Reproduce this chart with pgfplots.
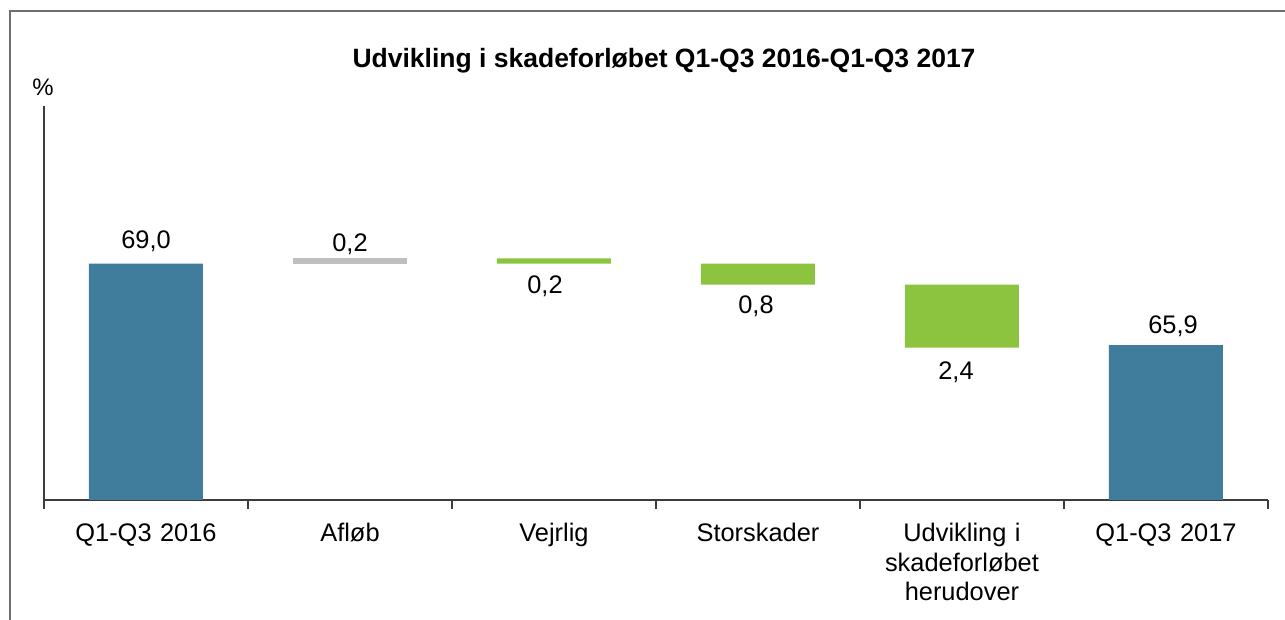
\documentclass[border=0pt]{standalone}
\usepackage{pgfplots}
\pgfplotsset{compat=1.18}
\usepackage{pgfplotstable}
\usepackage{fontspec}
\setmainfont{Liberation Sans}
\definecolor{barblue}{HTML}{407C9C}
\definecolor{bargreen}{HTML}{8CC43F}
\definecolor{bargray}{HTML}{BFBFBF}
\definecolor{framegray}{HTML}{6E6E6E}
\definecolor{axisgray}{HTML}{3C3C3C}

\pgfplotstableread{
x base blue gray green
0 0    69.0 0   0
1 69.0 0    0.2 0
2 69.0 0    0   0.2
3 68.2 0    0   0.8
4 65.8 0    0   2.4
5 0    65.9 0   0
}\wfdata

\tikzset{vlab/.style={font=\fontsize{25.5}{30}\selectfont, anchor=base, inner sep=0pt}}

\begin{document}
\begin{tikzpicture}
\path[use as bounding box] (0,0) rectangle (1285bp,620bp);
\draw[framegray, line width=2bp] (10bp,0) -- (10bp,609bp) -- (1286bp,609bp);
\node[font=\bfseries\fontsize{26.6}{30}\selectfont, anchor=base] at (664bp,552bp) {Udvikling i skadeforløbet Q1-Q3 2016-Q1-Q3 2017};
\node[font=\fontsize{24}{28}\selectfont, anchor=base] at (43bp,524bp) {\%};
\begin{axis}[
  at={(44bp,120bp)}, anchor=south west,
  scale only axis, width=1224bp, height=394bp,
  xmin=-0.5, xmax=5.5, ymin=60, ymax=75,
  axis x line*=bottom, axis y line*=left,
  axis line style={axisgray, line width=1.3bp, -},
  ytick=\empty,
  xtick={0,...,5},
  xticklabels={Q1-Q3 2016, Afløb, Vejrlig, Storskader, {Udvikling i\\skadeforløbet\\herudover}, Q1-Q3 2017},
  major tick length=0pt,
  minor xtick={-0.5,0.5,...,5.5},
  minor tick length=9bp,
  tick align=outside,
  minor tick style={axisgray, line width=1.3bp},
  xticklabel style={font=\fontsize{25.5}{29.5}\selectfont, text width=220bp, align=center, anchor=base, yshift=-42bp, inner sep=0pt},
  ybar stacked, bar width=114bp,
]
\addplot[draw=none, fill=none] table[x=x, y=base] {\wfdata};
\addplot[draw=none, fill=barblue] table[x=x, y=blue] {\wfdata};
\addplot[draw=none, fill=bargray] table[x=x, y=gray] {\wfdata};
\addplot[draw=none, fill=bargreen] table[x=x, y=green] {\wfdata};
\node[vlab] at (axis cs:0,69.57) {69,0};
\node[vlab] at (axis cs:1,69.46) {0,2};
\node[vlab, xshift=-9bp] at (axis cs:2,67.86) {0,2};
\node[vlab, xshift=-2bp] at (axis cs:3,67.10) {0,8};
\node[vlab, xshift=-6bp] at (axis cs:4,64.60) {2,4};
\node[vlab, xshift=7bp] at (axis cs:5,66.34) {65,9};
\end{axis}
\end{tikzpicture}
\end{document}
